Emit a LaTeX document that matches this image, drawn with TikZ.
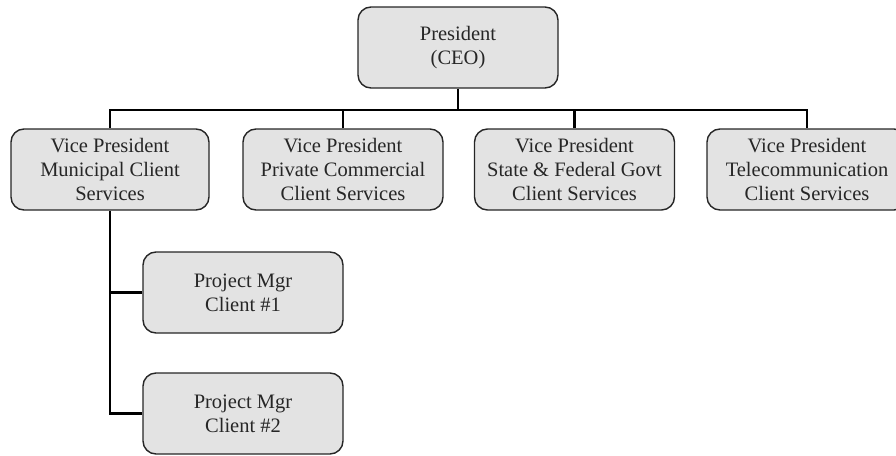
\documentclass[tikz,border=0pt]{standalone}
\usepackage{fontspec}
\setmainfont{Liberation Serif}
\begin{document}
\begin{tikzpicture}[x=1pt,y=-1pt,
  box/.style={draw=black!85,line width=1.4pt,fill=black!11,rounded corners=13pt,
    minimum width=200pt,minimum height=81pt,inner sep=0pt,align=center,
    font=\fontsize{20.5}{24}\selectfont,text=black!85},
  conn/.style={draw=black,line width=2.6pt}]
\useasboundingbox (0,0) rectangle (896,455);
\clip (0,0) rectangle (896,455);
\node[box] (ceo) at (458,47.5) {President\\(CEO)};
\node[box,minimum width=198pt] (vp1) at (110,169.5) {Vice President\\Municipal Client\\Services};
\node[box] (vp2) at (343,169.5) {Vice President\\Private Commercial\\Client Services};
\node[box] (vp3) at (574.5,169.5) {Vice President\\State \& Federal Govt\\Client Services};
\node[box] (vp4) at (807,169.5) {Vice President\\Telecommunication\\Client Services};
\node[box] (pm1) at (243,292.5) {Project Mgr\\Client \#1};
\node[box] (pm2) at (243,413.5) {Project Mgr\\Client \#2};
\coordinate (bar) at (458,110);
\coordinate (pmline) at (111,413.5);
\draw[conn] (ceo.south) -- (bar);
\draw[conn] (vp1.north) |- (bar) -| (vp4.north);
\draw[conn] (vp2.north) -- (vp2.north |- bar);
\draw[conn] (vp3.north) -- (vp3.north |- bar);
\draw[conn] (vp1.south) -- (vp1.south |- pm2.west) -- (pm2.west);
\draw[conn] (vp1.south |- pm1.west) -- (pm1.west);
\end{tikzpicture}
\end{document}
